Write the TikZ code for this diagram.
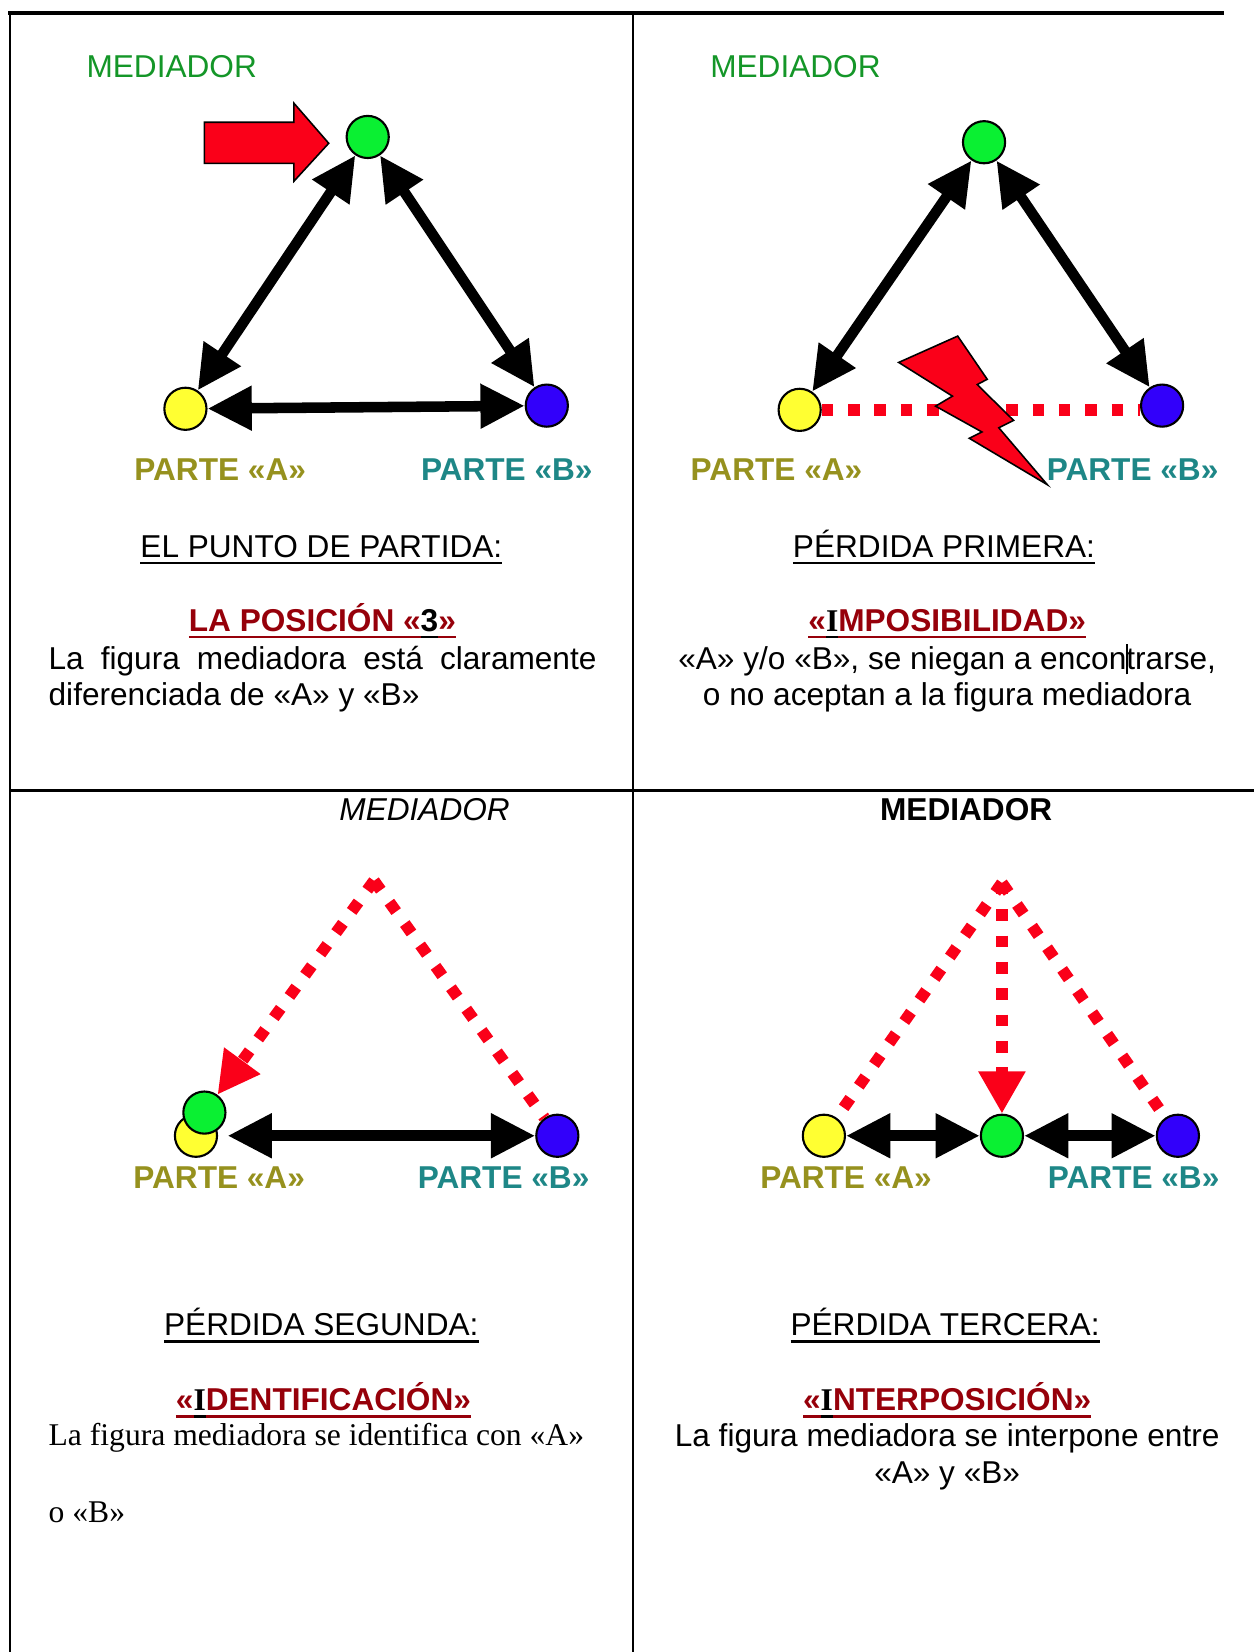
\documentclass[tikz,border=0pt]{standalone}
\usepackage{fontspec}
\setmainfont{Liberation Sans}
\newfontfamily\serifa{Liberation Serif}
\usetikzlibrary{arrows.meta}

\definecolor{verdetxt}{RGB}{20,150,40}
\definecolor{verde}{RGB}{10,240,50}
\definecolor{amarillo}{RGB}{255,255,50}
\definecolor{azul}{RGB}{50,0,250}
\definecolor{rojo}{RGB}{250,0,25}
\definecolor{granate}{RGB}{150,0,10}
\definecolor{oliva}{RGB}{150,145,30}
\definecolor{turquesa}{RGB}{30,135,135}

% subrayado con el color del texto
\newcommand{\subr}[1]{\setbox0\hbox{#1}\rlap{\rule[-6.5pt]{\wd0}{2.2pt}}\box0}

\tikzset{
  txt/.style={anchor=base, inner sep=0pt, font=\fontsize{30}{36}\selectfont},
  medtxt/.style={txt, text=verdetxt},
  parteA/.style={txt, text=oliva, font=\fontsize{30}{36}\selectfont\bfseries},
  parteB/.style={txt, text=turquesa, font=\fontsize{30}{36}\selectfont\bfseries},
  rojotxt/.style={txt, text=granate, font=\fontsize{30}{36}\selectfont\bfseries},
  punto/.style={circle, draw, line width=2pt, minimum size=40pt, inner sep=0pt},
  flecha/.style={line width=10pt, {Triangle[length=42pt,width=40pt]}-{Triangle[length=42pt,width=40pt]}},
  punteado/.style={draw=rojo, line width=11pt, dash pattern=on 11pt off 14pt},
  rayo/.style={fill=rojo, draw=black, line width=1.5pt, line join=miter},
}

\begin{document}
\begin{tikzpicture}[x=1pt, y=-1pt]

  \useasboundingbox (0,0) rectangle (1190,1568);

  % marco
  \draw[line width=4pt] (8,12) -- (1162,12);
  \draw[line width=2pt] (9.5,11) -- (9.5,1568);
  \draw[line width=2pt] (600.5,11) -- (600.5,1568);
  \draw[line width=3pt] (9.5,750) -- (1190,750);

  % el punto de partida
  \node[medtxt] (med1) at (163,74) {MEDIADOR};
  \node[punto, fill=verde] (M1) at (349,130) {};
  \node[punto, fill=amarillo] (A1) at (176,388) {};
  \node[punto, fill=azul] (B1) at (519,385) {};
  \draw[flecha] (A1) -- (M1);
  \draw[flecha] (M1) -- (B1);
  \draw[flecha] (A1) -- (B1);
  \filldraw[rayo] (194,116) -- (279,116) -- (279,98) -- (312,136) -- (279,172) -- (279,155) -- (194,155) -- cycle;
  \node[parteA] (pa1) at (209,456) {PARTE «A»};
  \node[parteB] (pb1) at (481,456) {PARTE «B»};
  \node[txt] (t1) at (305,529) {\subr{EL PUNTO DE PARTIDA:}};
  \node[rojotxt] (r1) at (306,599) {\subr{LA POSICIÓN «}{\color{black}\subr{3}}\subr{»}};
  \node[txt, anchor=base west] (d1a) at (46,635) {\makebox[520pt][s]{La figura mediadora está claramente}};
  \node[txt, anchor=base west] (d1b) at (46,670) {diferenciada de «A» y «B»};

  % perdida primera
  \node[medtxt] (med2) at (755,74) {MEDIADOR};
  \node[punto, fill=verde] (M2) at (934,135) {};
  \node[punto, fill=amarillo] (A2) at (759,389) {};
  \node[punto, fill=azul] (B2) at (1103,385) {};
  \draw[flecha] (A2) -- (M2);
  \draw[flecha] (M2) -- (B2);
  \draw[punteado] (A2.east) -- (A2.east -| B2.west);
  \filldraw[rayo] (853,344) -- (909,319) -- (937,360) -- (927.5,365) -- (962,399) -- (948,406) -- (994,460)
    -- (920,416) -- (932,410) -- (888,385.5) -- (904,376) -- cycle;
  \node[parteA] (pa2) at (737,456) {PARTE «A»};
  \node[parteB] (pb2) at (1075,456) {PARTE «B»};
  \node[txt] (t2) at (896,529) {\subr{PÉRDIDA PRIMERA:}};
  \node[rojotxt] (r2) at (899,599) {\subr{«}{\color{black}\subr{\serifa I}}\subr{MPOSIBILIDAD»}};
  \node[txt] (d2a) at (899,635) {«A» y/o «B», se niegan a encon\rlap{\rule[-5pt]{1.3pt}{29pt}}trarse,};
  \node[txt] (d2b) at (899,670) {o no aceptan a la figura mediadora};

  % perdida segunda
  \node[txt, font=\fontsize{30}{36}\selectfont\itshape] (med3) at (403,779) {MEDIADOR};
  \coordinate (P3) at (355,836);
  \node[punto, fill=amarillo] (A3) at (186,1078) {};
  \node[punto, fill=verde] (M3) at (194,1056) {};
  \node[punto, fill=azul] (B3) at (529,1078) {};
  \draw[punteado, -{Triangle[length=40pt,width=40pt]}] (P3) -- (M3);
  \draw[punteado] (P3) -- (B3);
  \draw[flecha, shorten <=9pt] (A3) -- (B3);
  \node[parteA] (pa3) at (208,1128) {PARTE «A»};
  \node[parteB] (pb3) at (478,1128) {PARTE «B»};
  \node[txt] (t3) at (305,1268) {\subr{PÉRDIDA SEGUNDA:}};
  \node[rojotxt] (r3) at (307,1339) {\subr{«}{\color{black}\subr{\serifa I}}\subr{DENTIFICACIÓN»}};
  \node[txt, anchor=base west, font=\fontsize{30}{36}\selectfont\serifa] (d3a) at (46,1372) {La figura mediadora se identifica con «A»};
  \node[txt, anchor=base west, font=\fontsize{30}{36}\selectfont\serifa] (d3b) at (46,1445) {o «B»};

  % perdida tercera
  \node[txt, font=\fontsize{30}{36}\selectfont\bfseries] (med4) at (917,779) {MEDIADOR};
  \coordinate (P4) at (951,838);
  \node[punto, fill=amarillo] (A4) at (782,1078) {};
  \node[punto, fill=verde] (M4) at (951,1078) {};
  \node[punto, fill=azul] (B4) at (1118,1078) {};
  \draw[punteado] (P4) -- (A4);
  \draw[punteado] (P4) -- (B4);
  \draw[punteado, -{Triangle[length=40pt,width=42pt]}] (P4) -- (M4);
  \draw[flecha] (A4) -- (M4);
  \draw[flecha] (M4) -- (B4);
  \node[parteA] (pa4) at (803,1128) {PARTE «A»};
  \node[parteB] (pb4) at (1076,1128) {PARTE «B»};
  \node[txt] (t4) at (897,1268) {\subr{PÉRDIDA TERCERA:}};
  \node[rojotxt] (r4) at (899,1339) {\subr{«}{\color{black}\subr{\serifa I}}\subr{NTERPOSICIÓN»}};
  \node[txt] (d4a) at (899,1373) {La figura mediadora se interpone entre};
  \node[txt] (d4b) at (899,1408) {«A» y «B»};

\end{tikzpicture}
\end{document}
